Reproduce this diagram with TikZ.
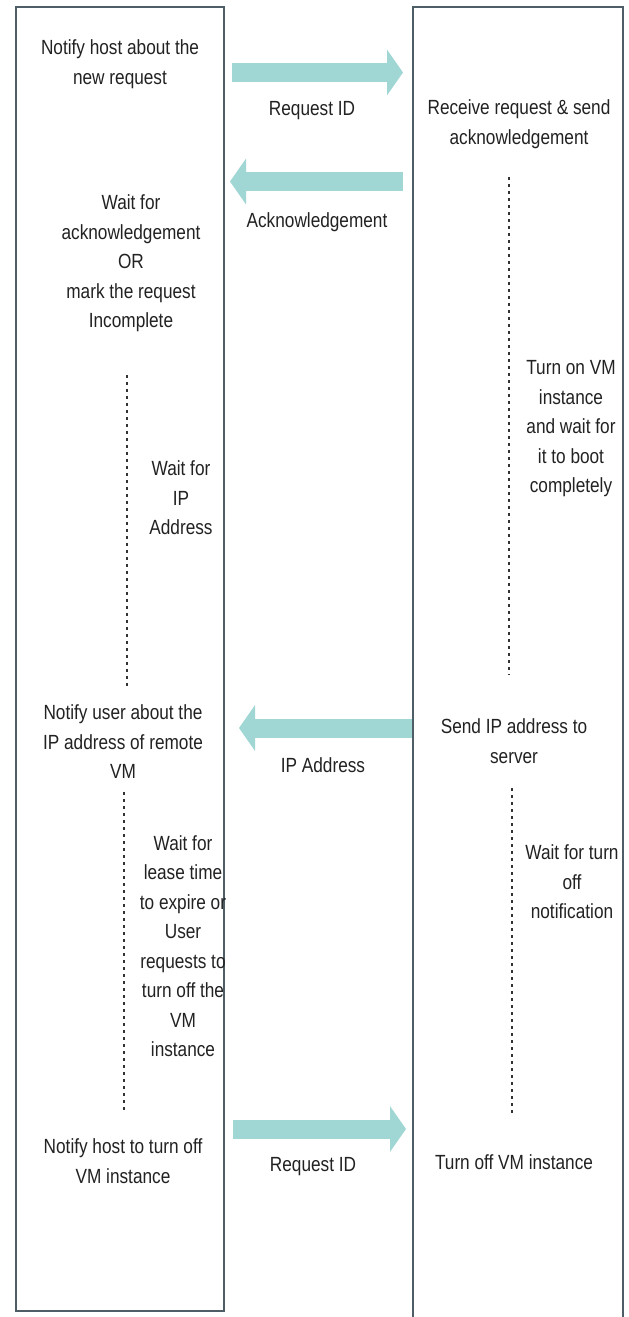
\documentclass[tikz,border=0pt]{standalone}
\usepackage{fontspec}
\setmainfont{Liberation Sans}[FakeStretch=0.84]
\usetikzlibrary{arrows.meta}
\definecolor{boxline}{HTML}{4E5E66}
\definecolor{teal}{HTML}{A0D7D4}
\definecolor{txt}{HTML}{222222}
\definecolor{dots}{HTML}{333333}
\tikzset{
  lane/.style={draw=boxline, line width=1.5pt},
  lbl/.style={align=center, text=txt, inner sep=0pt, font={\fontsize{20.5}{29.5}\selectfont}},
  flow/.style={draw=teal, line width=19pt, -{Triangle[length=16pt, width=45pt, fill=teal, color=teal]}},
  waitline/.style={draw=dots, line width=1.2pt, dash pattern=on 3pt off 4pt},
}
\begin{document}
\begin{tikzpicture}[x=1pt,y=-1pt]
\useasboundingbox (0,0) rectangle (629,1317);
\fill[white] (0,0) rectangle (629,1317);
% lanes
\node[lane, minimum width=208pt, minimum height=1304pt, inner sep=0pt] (L) at (120,659) {};
\node[minimum width=210pt, minimum height=1312pt, inner sep=0pt] (R) at (518,663) {};
\draw[lane] (R.south west) -- (R.north west) -- (R.north east) -- (R.south east);
% texts
\node[lbl] (n1) at (120,64) {Notify host about the\\new request};
\node[lbl] (rid1) at (312,111) {Request ID};
\node[lbl] (r1) at (519,124) {Receive request \& send\\acknowledgement};
\node[lbl] (ack) at (317,222) {Acknowledgement};
\node[lbl] (w1) at (131,263.5) {Wait for\\acknowledgement\\OR\\mark the request\\Incomplete};
\node[lbl] (wip) at (181,498) {Wait for\\IP\\Address};
\node[lbl] (ton) at (571,429) {Turn on VM\\instance\\and wait for\\it to boot\\completely};
\node[lbl] (nu) at (123,742) {Notify user about the\\IP address of remote\\VM};
\node[lbl] (ipa) at (323,765) {IP Address};
\node[lbl] (sip) at (514,741) {Send IP address to\\server};
\node[lbl] (lease) at (183,946) {Wait for\\lease time\\to expire or\\User\\requests to\\turn off the\\VM\\instance};
\node[lbl] (wturn) at (572,882) {Wait for turn\\off\\notification};
\node[lbl] (nh) at (123,1161) {Notify host to turn off\\VM instance};
\node[lbl] (rid2) at (313,1167) {Request ID};
\node[lbl] (toff) at (514,1162) {Turn off VM instance};
% message arrows
\coordinate (a1s) at (232,72.5);  \coordinate (a1e) at (403,72.5);
\coordinate (a2s) at (403,181.5); \coordinate (a2e) at (230,181.5);
\coordinate (a3s) at (412,728);   \coordinate (a3e) at (239,728);
\coordinate (a4s) at (233,1129);  \coordinate (a4e) at (406,1129);
\draw[flow] (a1s) -- (a1e);
\draw[flow] (a2s) -- (a2e);
\draw[flow] (a3s) -- (a3e);
\draw[flow] (a4s) -- (a4e);
% waiting lines
\coordinate (d1s) at (127,375); \coordinate (d1e) at (127,688);
\coordinate (d2s) at (509,177); \coordinate (d2e) at (509,675);
\coordinate (d3s) at (124,792); \coordinate (d3e) at (124,1112);
\coordinate (d4s) at (512,788); \coordinate (d4e) at (512,1113);
\draw[waitline] (d1s) -- (d1e);
\draw[waitline] (d2s) -- (d2e);
\draw[waitline] (d3s) -- (d3e);
\draw[waitline] (d4s) -- (d4e);
\end{tikzpicture}
\end{document}
